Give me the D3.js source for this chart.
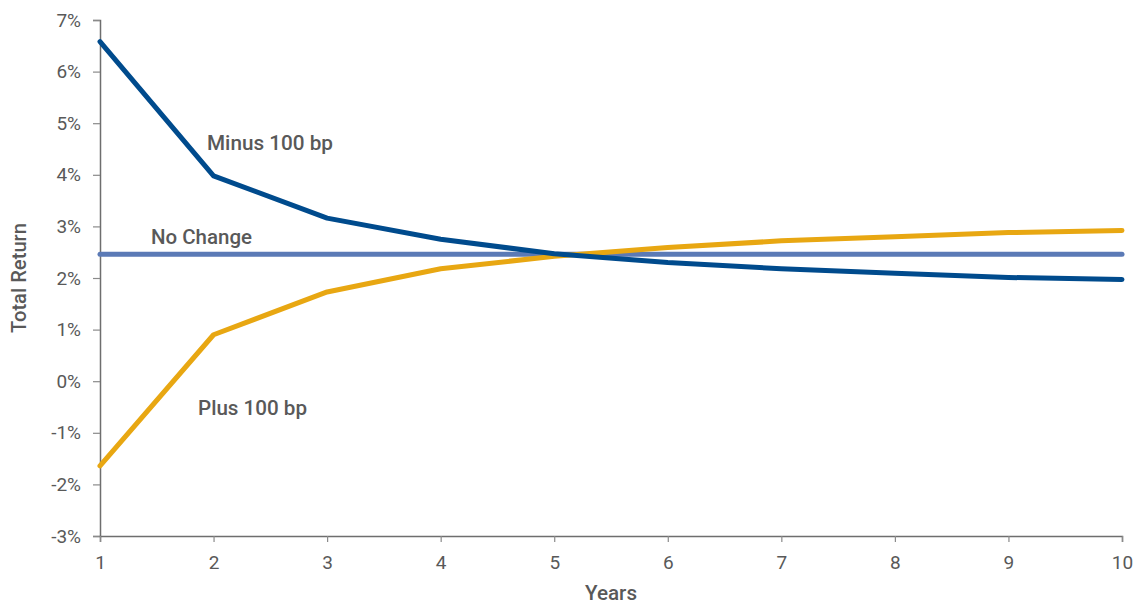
<!DOCTYPE html>
<html>
<head>
<meta charset="utf-8">
<script src="https://cdn.jsdelivr.net/npm/d3@7"></script>
<style>
  html, body { margin: 0; padding: 0; background: #fff; }
  svg { display: block; }
  text { font-family: Roboto, "Liberation Sans", sans-serif; fill: #595959; }
</style>
</head>
<body>
<svg id="chart" width="1133" height="606"></svg>
<script>
// Years on the horizontal axis
const years = [1, 2, 3, 4, 5, 6, 7, 8, 9, 10];
// Total return (%) under each rate scenario
const minus100 = [6.58, 3.98, 3.16, 2.75, 2.47, 2.30, 2.18, 2.09, 2.01, 1.97];
const noChange = [2.46, 2.46, 2.46, 2.46, 2.46, 2.46, 2.46, 2.46, 2.46, 2.46];
const plus100 = [-1.64, 0.90, 1.73, 2.18, 2.42, 2.59, 2.72, 2.80, 2.88, 2.92];
const yTicks = [-3, -2, -1, 0, 1, 2, 3, 4, 5, 6, 7];

const series = [
  { name: "No Change", values: noChange, color: "#5B7AB6" },
  { name: "Plus 100 bp", values: plus100, color: "#E8A712" },
  { name: "Minus 100 bp", values: minus100, color: "#004B8D" }
];

const svg = d3.select("#chart");
const margin = { left: 100, right: 11, top: 20, bottom: 70 };
const W = 1133, H = 606;

const x = d3.scaleLinear().domain([1, 10]).range([margin.left, W - margin.right]);
const y = d3.scaleLinear().domain([-3, 7]).range([H - margin.bottom, margin.top]);

// Y axis
const yAxis = svg.append("g")
  .attr("transform", `translate(${margin.left},0)`)
  .call(d3.axisLeft(y).tickValues(yTicks).tickFormat(d => d + "%").tickSize(7).tickPadding(12));
// X axis
const xAxis = svg.append("g")
  .attr("transform", `translate(0,${y(-3)})`)
  .call(d3.axisBottom(x).tickValues(years).tickFormat(d3.format("d")).tickSize(6).tickPadding(14));

[yAxis, xAxis].forEach(g => {
  g.select(".domain").attr("stroke", "#6e6e6e").attr("stroke-width", 1.5);
  g.selectAll(".tick line").attr("stroke", "#8a8a8a").attr("stroke-width", 1.2);
  g.selectAll(".tick text")
    .style("font-family", "Roboto, sans-serif")
    .style("font-size", "19px")
    .attr("fill", "#595959");
});

// Lines
const line = d3.line().x((d, i) => x(years[i])).y(d => y(d));
svg.append("g").selectAll("path")
  .data(series)
  .join("path")
  .attr("d", d => line(d.values))
  .attr("fill", "none")
  .attr("stroke", d => d.color)
  .attr("stroke-width", 5)
  .attr("stroke-linejoin", "round")
  .attr("stroke-linecap", "round");

// Series labels
const labels = [
  { text: "Minus 100 bp", x: 207, y: 150, w: 126 },
  { text: "No Change", x: 151, y: 244, w: 101 },
  { text: "Plus 100 bp", x: 198, y: 415, w: 109 }
];
svg.append("g").selectAll("text")
  .data(labels)
  .join("text")
  .attr("x", d => d.x)
  .attr("y", d => d.y)
  .attr("textLength", d => d.w)
  .attr("lengthAdjust", "spacingAndGlyphs")
  .style("font-size", "21px")
  .style("font-weight", 500)
  .attr("fill", "#595959")
  .text(d => d.text);

// Axis titles
svg.append("text")
  .attr("transform", `translate(26,${(y(7) + y(-3)) / 2}) rotate(-90)`)
  .attr("text-anchor", "middle")
  .attr("textLength", 110)
  .attr("lengthAdjust", "spacingAndGlyphs")
  .style("font-size", "21px")
  .style("font-weight", 500)
  .text("Total Return");
svg.append("text")
  .attr("x", (x(1) + x(10)) / 2)
  .attr("y", 600)
  .attr("text-anchor", "middle")
  .attr("textLength", 52)
  .attr("lengthAdjust", "spacingAndGlyphs")
  .style("font-size", "21px")
  .style("font-weight", 500)
  .text("Years");
</script>
</body>
</html>
